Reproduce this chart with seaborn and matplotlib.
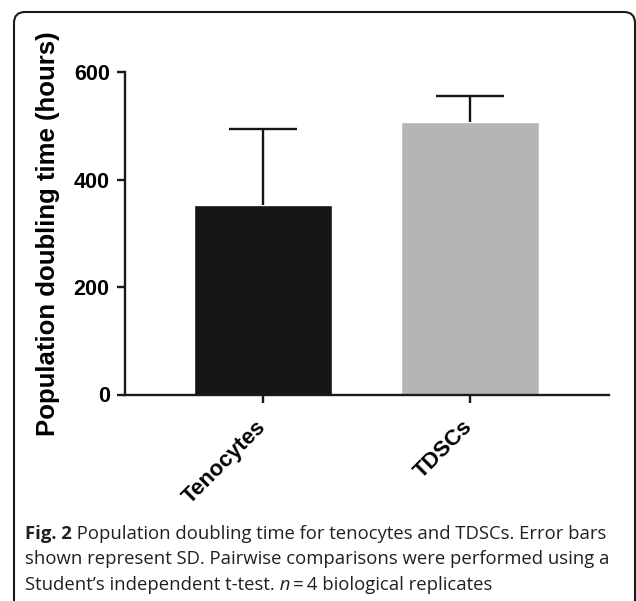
"""
Population doubling time: tenocytes vs TDSCs (bar + SD)
"""

import matplotlib.pyplot as plt
import matplotlib.transforms as mtransforms
from matplotlib.patches import FancyBboxPatch
import seaborn as sns

cell_types = ['Tenocytes', 'TDSCs']
doubling_time = [353, 507]      # mean, hours
doubling_sd = [141, 49]         # SD, hours (upper bar only)
bar_colors = ['#151515', '#b5b5b5']
y_ticks = [0, 200, 400, 600]

cap_bold = 'Fig. 2'
cap_line1 = ' Population doubling time for tenocytes and TDSCs. Error bars'
cap_line2 = 'shown represent SD. Pairwise comparisons were performed using a'
cap_line3a = 'Student\u2019s independent t-test.'
cap_line3n = ' n'
cap_line3b = '\u2009=\u20094 biological replicates'

sns.set_style('ticks')
plt.rcParams['font.family'] = ['Liberation Sans', 'DejaVu Sans']

W, H = 636, 601
fig = plt.figure(figsize=(W / 100, H / 100), dpi=100)
ax = fig.add_axes([125 / W, 1 - 394.5 / H, (609 - 125) / W, (394.5 - 72.5) / H])

sns.barplot(x=cell_types, y=doubling_time, hue=cell_types, palette=bar_colors,
            saturation=1, width=0.67, errorbar=None, legend=False, ax=ax)
eb = ax.errorbar(cell_types, doubling_time, yerr=[[0, 0], doubling_sd], fmt='none',
                 ecolor='#151515', elinewidth=1.7, capsize=24.5, capthick=1.7)
# only the upper cap, as in the original
eb[1][0].set_visible(False)

ax.set_ylim(0, 600)
ax.set_xlim(-0.67, 1.675)
ax.set_yticks(y_ticks)
sns.despine(ax=ax)
for side in ['left', 'bottom']:
    ax.spines[side].set_linewidth(1.7)
    ax.spines[side].set_color('#1a1a1a')
ax.tick_params(width=1.7, length=6, color='#1a1a1a', labelcolor='black')
ax.tick_params(axis='y', labelsize=15.5, pad=5)
ax.tick_params(axis='x', labelsize=16, pad=15)
for lab in ax.get_yticklabels():
    lab.set_fontweight('bold')
ax.set_xticks(range(len(cell_types)))
ax.set_xticklabels(cell_types, rotation=45, ha='right', va='center',
                   rotation_mode='anchor', fontweight='bold')
ax.set_xlabel('')
ax.set_ylabel('Population doubling time (hours)', fontsize=18.5, fontweight='bold',
              color='black')
ax.yaxis.set_label_coords(-0.134, 0.5)

# rounded frame, open at the bottom
frame = FancyBboxPatch((14, -40), 621, H - 12 + 40, boxstyle='round,pad=0,rounding_size=11',
                       transform=mtransforms.IdentityTransform(), fill=False,
                       edgecolor='#1a1a1a', linewidth=1.5)
fig.add_artist(frame)

# caption
cap_font = ['Open Sans', 'DejaVu Sans']
cap_color = '#231f20'
cap_size = 13.3
renderer = fig.canvas.get_renderer()


def put(x, y, s, **kw):
    t = fig.text(x / W, 1 - y / H, s, fontsize=cap_size, color=cap_color, family=cap_font,
                 va='baseline', ha='left', **kw)
    return t.get_window_extent(renderer).x1


x = put(25, 539, cap_bold, fontweight='bold')
put(x, 539, cap_line1)
put(25, 564.5, cap_line2)
x = put(25, 590, cap_line3a)
x = put(x, 590, cap_line3n, style='italic')
put(x, 590, cap_line3b)

fig.savefig('out.png', dpi=100)
